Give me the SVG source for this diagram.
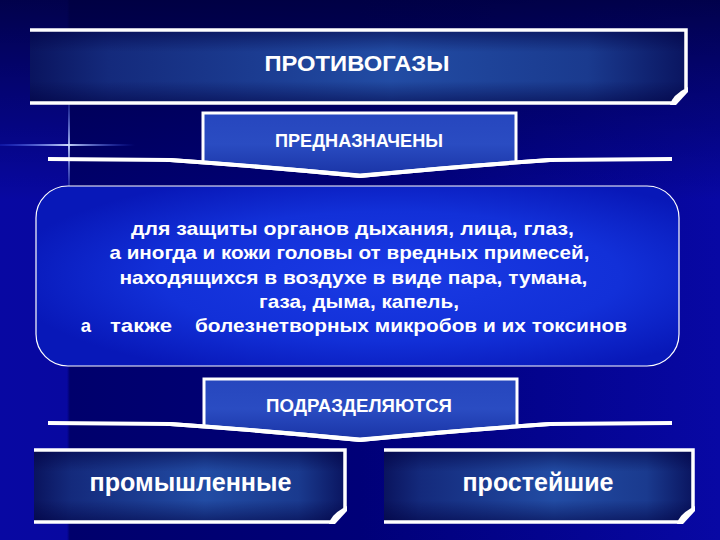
<svg xmlns="http://www.w3.org/2000/svg" width="720" height="540" viewBox="0 0 720 540">
<style>
.t{font-family:"Liberation Sans",Arial,sans-serif;font-weight:bold;fill:#ffffff;text-anchor:middle}
.frame{stroke:#ffffff;stroke-width:3.5}
.flap{fill:#ffffff}
.swoosh{fill:none;stroke:#ffffff;stroke-width:4;stroke-linejoin:round}
.tab{stroke:#ffffff;stroke-width:3;fill:url(#tabG)}
</style>
<defs>
<linearGradient id="bgH" x1="0" y1="0" x2="720" y2="0" gradientUnits="userSpaceOnUse">
<stop offset="0" stop-color="#0808a2"/>
<stop offset="0.093" stop-color="#0808a0"/>
<stop offset="0.097" stop-color="#00006c"/>
<stop offset="0.5" stop-color="#000078"/>
<stop offset="1" stop-color="#0808a4"/>
</linearGradient>
<linearGradient id="bgV" x1="0" y1="0" x2="0" y2="200" gradientUnits="userSpaceOnUse">
<stop offset="0" stop-color="#00003c" stop-opacity="0.85"/>
<stop offset="0.6" stop-color="#00004a" stop-opacity="0.4"/>
<stop offset="1" stop-color="#00004a" stop-opacity="0"/>
</linearGradient>
<linearGradient id="boxH" x1="0" y1="0" x2="1" y2="0">
<stop offset="0" stop-color="#0a145e"/>
<stop offset="0.12" stop-color="#142a7c"/>
<stop offset="0.55" stop-color="#224ca4"/>
<stop offset="0.85" stop-color="#1a3a8e"/>
<stop offset="1" stop-color="#0a1560"/>
</linearGradient>
<linearGradient id="boxV" x1="0" y1="0" x2="0" y2="1">
<stop offset="0" stop-color="#000040" stop-opacity="0.55"/>
<stop offset="0.3" stop-color="#000040" stop-opacity="0"/>
<stop offset="0.7" stop-color="#000040" stop-opacity="0"/>
<stop offset="1" stop-color="#000040" stop-opacity="0.55"/>
</linearGradient>
<linearGradient id="tabG" x1="0" y1="0" x2="0" y2="1">
<stop offset="0" stop-color="#2646be"/>
<stop offset="0.5" stop-color="#2a4cc2"/>
<stop offset="1" stop-color="#1a34a6"/>
</linearGradient>
<radialGradient id="midG" cx="0.55" cy="0.5" r="0.6">
<stop offset="0" stop-color="#1a3ae4"/>
<stop offset="0.6" stop-color="#1230d8"/>
<stop offset="1" stop-color="#0818b8"/>
</radialGradient>
<linearGradient id="flareV" x1="0" y1="88" x2="0" y2="205" gradientUnits="userSpaceOnUse">
<stop offset="0" stop-color="#4060ff" stop-opacity="0"/>
<stop offset="0.5" stop-color="#c0d0ff" stop-opacity="0.9"/>
<stop offset="1" stop-color="#4060ff" stop-opacity="0"/>
</linearGradient>
<linearGradient id="flareH" x1="0" y1="0" x2="135" y2="0" gradientUnits="userSpaceOnUse">
<stop offset="0" stop-color="#3050ff" stop-opacity="0.2"/>
<stop offset="0.5" stop-color="#d0e0ff" stop-opacity="0.95"/>
<stop offset="1" stop-color="#3050ff" stop-opacity="0"/>
</linearGradient>
</defs>

<g id="background">
<rect x="0" y="0" width="720" height="540" fill="url(#bgH)"/>
<rect x="0" y="0" width="720" height="200" fill="url(#bgV)"/>
<rect x="68" y="88" width="2" height="117" fill="url(#flareV)"/>
<rect x="0" y="144" width="135" height="2" fill="url(#flareH)"/>
</g>

<g id="connectors">
<path class="swoosh" d="M48,159 L170,160 Q270,167 360,176 Q450,167 550,160 L672,159"/>
<path class="swoosh" d="M48,423 L170,424 Q270,431 360,440 Q450,431 550,424 L672,423"/>
</g>

<g id="node-protivogazy">
<path d="M30,30 H686 V89 L672,103 H30 Z" fill="url(#boxH)"/>
<path d="M30,30 H686 V89 L672,103 H30 Z" fill="url(#boxV)"/>
<path class="frame" fill="none" d="M30,30 H686 V89 M672,103 H30 Z"/>
<path class="flap" d="M688,87 L688,92 L676,105 L670,105 Q672,95 688,87 Z"/>
<text class="t" x="357" y="71" font-size="22" textLength="185" lengthAdjust="spacingAndGlyphs">ПРОТИВОГАЗЫ</text>
</g>

<g id="node-prednaznacheny">
<path class="tab" d="M203,162 V113 H516 V162 Q450,167 360,175 Q270,167 203,162 Z"/>
<path class="swoosh" d="M170,160 Q270,167 360,176 Q450,167 550,160"/>
<text class="t" x="359" y="147" font-size="18" textLength="168" lengthAdjust="spacingAndGlyphs">ПРЕДНАЗНАЧЕНЫ</text>
</g>

<g id="node-description">
<rect x="36" y="186" width="643" height="180" rx="32" ry="32" fill="url(#midG)" stroke="#ffffff" stroke-width="1.2"/>
<text class="t" font-size="18.5">
<tspan x="355" y="235" textLength="443" lengthAdjust="spacingAndGlyphs">для защиты органов дыхания, лица, глаз,</tspan>
<tspan x="352" y="259" textLength="480" lengthAdjust="spacingAndGlyphs">а иногда и кожи головы от вредных примесей,</tspan>
<tspan x="356" y="283.5" textLength="468" lengthAdjust="spacingAndGlyphs">находящихся в воздухе в виде пара, тумана,</tspan>
<tspan x="359" y="308" textLength="200" lengthAdjust="spacingAndGlyphs">газа, дыма, капель,</tspan>
</text>
<text class="t" font-size="18.5" y="332"><tspan x="86">а</tspan><tspan x="141" textLength="62" lengthAdjust="spacingAndGlyphs">также</tspan><tspan x="411" textLength="432" lengthAdjust="spacingAndGlyphs">болезнетворных микробов и их токсинов</tspan></text>
</g>

<g id="node-podrazdelyayutsya">
<path class="tab" d="M204,426 V379 H517 V426 Q450,431 360,439 Q270,431 204,426 Z"/>
<path class="swoosh" d="M170,424 Q270,431 360,440 Q450,431 550,424"/>
<text class="t" x="359" y="412" font-size="18" textLength="186" lengthAdjust="spacingAndGlyphs">ПОДРАЗДЕЛЯЮТСЯ</text>
</g>

<g id="node-promyshlennye">
<path d="M34,450 H345 V508 L331,522 H34 Z" fill="url(#boxH)"/>
<path d="M34,450 H345 V508 L331,522 H34 Z" fill="url(#boxV)"/>
<path class="frame" fill="none" d="M34,450 H345 V508 M331,522 H34 Z"/>
<path class="flap" d="M347,506 L347,511 L335,524 L329,524 Q331,514 347,506 Z"/>
<text class="t" x="190.5" y="491" font-size="26" textLength="202" lengthAdjust="spacingAndGlyphs">промышленные</text>
</g>

<g id="node-prosteyshie">
<path d="M384,450 H693 V508 L679,522 H384 Z" fill="url(#boxH)"/>
<path d="M384,450 H693 V508 L679,522 H384 Z" fill="url(#boxV)"/>
<path class="frame" fill="none" d="M384,450 H693 V508 M679,522 H384 Z"/>
<path class="flap" d="M695,506 L695,511 L683,524 L677,524 Q679,514 695,506 Z"/>
<text class="t" x="538" y="491" font-size="26" textLength="151" lengthAdjust="spacingAndGlyphs">простейшие</text>
</g>
</svg>
